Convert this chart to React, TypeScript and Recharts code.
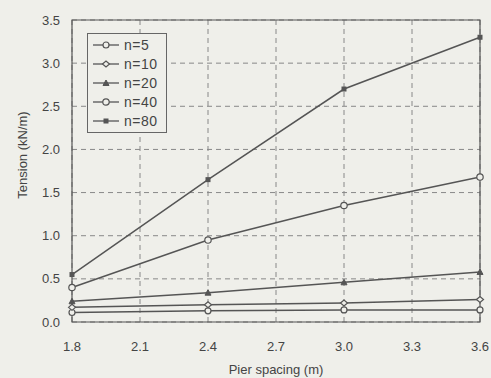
import React from "react";
import { LineChart, Line, XAxis, YAxis, CartesianGrid, ReferenceArea } from "recharts";

const spacing = [1.8, 2.4, 3.0, 3.6];
const n5 = [0.11, 0.13, 0.14, 0.14];
const n10 = [0.17, 0.2, 0.22, 0.26];
const n20 = [0.24, 0.34, 0.46, 0.58];
const n40 = [0.4, 0.95, 1.35, 1.68];
const n80 = [0.55, 1.65, 2.7, 3.3];
const xTicks = [1.8, 2.1, 2.4, 2.7, 3.0, 3.3, 3.6];
const yTicks = [0, 0.5, 1.0, 1.5, 2.0, 2.5, 3.0, 3.5];
const seriesNames = ["n=5", "n=10", "n=20", "n=40", "n=80"];

const data = spacing.map((s, i) => ({
  s,
  n5: n5[i],
  n10: n10[i],
  n20: n20[i],
  n40: n40[i],
  n80: n80[i],
}));

const INK = "#555";
const BG = "#efefea";

// marker shapes
const drawMarker = (kind: string, cx: number, cy: number, key?: string | number) => {
  switch (kind) {
    case "circle":
      return <circle key={key} cx={cx} cy={cy} r={3} fill={BG} stroke={INK} strokeWidth={1.2} />;
    case "diamond":
      return (
        <path
          key={key}
          d={`M${cx - 3.5},${cy} L${cx},${cy - 3} L${cx + 3.5},${cy} L${cx},${cy + 3} Z`}
          fill={BG}
          stroke={INK}
          strokeWidth={1.2}
        />
      );
    case "triangle":
      return (
        <path
          key={key}
          d={`M${cx - 3},${cy + 2.5} L${cx},${cy - 3} L${cx + 3},${cy + 2.5} Z`}
          fill={INK}
          stroke={INK}
          strokeWidth={1}
        />
      );
    case "square":
      return <rect key={key} x={cx - 2.5} y={cy - 2.5} width={5} height={5} fill={INK} />;
    default:
      return <circle key={key} cx={cx} cy={cy} r={3.2} fill={BG} stroke={INK} strokeWidth={1.2} />;
  }
};

const markerKinds = ["circle", "diamond", "triangle", "ring", "square"];

const makeDot = (kind: string) => (props: any) => {
  const { cx, cy, index } = props;
  return drawMarker(kind, cx, cy, index);
};

const LegendBox = () => (
  <div
    style={{
      position: "absolute",
      left: 87,
      top: 33,
      border: "1px solid #666",
      background: BG,
      padding: "2px 4px 2px 4px",
      width: 70,
    }}
  >
    {seriesNames.map((name, i) => (
      <div key={name} style={{ display: "flex", alignItems: "center", height: 18.8 }}>
        <svg width={28} height={10}>
          <line x1={1} y1={5} x2={27} y2={5} stroke={INK} strokeWidth={1.3} />
          {drawMarker(markerKinds[i], 14, 5)}
        </svg>
        <span style={{ fontSize: 14, color: "#444", marginLeft: 4, letterSpacing: 0.5 }}>{name}</span>
      </div>
    ))}
  </div>
);

export default function App() {
  const keys = ["n5", "n10", "n20", "n40", "n80"];
  return (
    <div
      style={{
        position: "absolute",
        left: 0,
        top: 0,
        width: 491,
        height: 378,
        background: BG,
        fontFamily: "'Liberation Sans', Arial, sans-serif",
      }}
    >
      <LineChart width={491} height={378} data={data} margin={{ top: 20, right: 11, left: 0, bottom: 0 }}>
        <CartesianGrid stroke="#888" strokeDasharray="5 4" strokeWidth={1} />
        <XAxis
          dataKey="s"
          type="number"
          domain={[1.8, 3.6]}
          ticks={xTicks}
          tickFormatter={(v: number) => v.toFixed(1)}
          tickLine={false}
          axisLine={false}
          tick={{ fontSize: 13, fill: "#444" }}
          tickMargin={14}
          height={56}
          label={{ value: "Pier spacing (m)", position: "insideBottom", offset: 4, fontSize: 13, fill: "#444" }}
        />
        <YAxis
          type="number"
          domain={[0, 3.5]}
          ticks={yTicks}
          tickFormatter={(v: number) => v.toFixed(1)}
          tickLine={false}
          axisLine={false}
          tick={{ fontSize: 13, fill: "#444" }}
          tickMargin={6}
          width={72}
          label={{
            content: (props: any) => {
              const vb = props.viewBox || {};
              const cx = 24;
              const cy = (vb.y ?? 20) + (vb.height ?? 302) / 2 - 16;
              return (
                <text
                  x={cx}
                  y={cy}
                  transform={`rotate(-90 ${cx} ${cy})`}
                  textAnchor="middle"
                  dominantBaseline="middle"
                  fontSize={13}
                  fill="#444"
                >
                  Tension (kN/m)
                </text>
              );
            },
          }}
        />
        <ReferenceArea x1={1.8} x2={3.6} y1={0} y2={3.5} fill="none" stroke="#555" strokeWidth={1.2} ifOverflow="visible" />
        {keys.map((k, i) => (
          <Line
            key={k}
            dataKey={k}
            name={seriesNames[i]}
            stroke={INK}
            strokeWidth={1.5}
            dot={makeDot(markerKinds[i])}
            activeDot={false}
            isAnimationActive={false}
          />
        ))}
      </LineChart>
      <LegendBox />
    </div>
  );
}
